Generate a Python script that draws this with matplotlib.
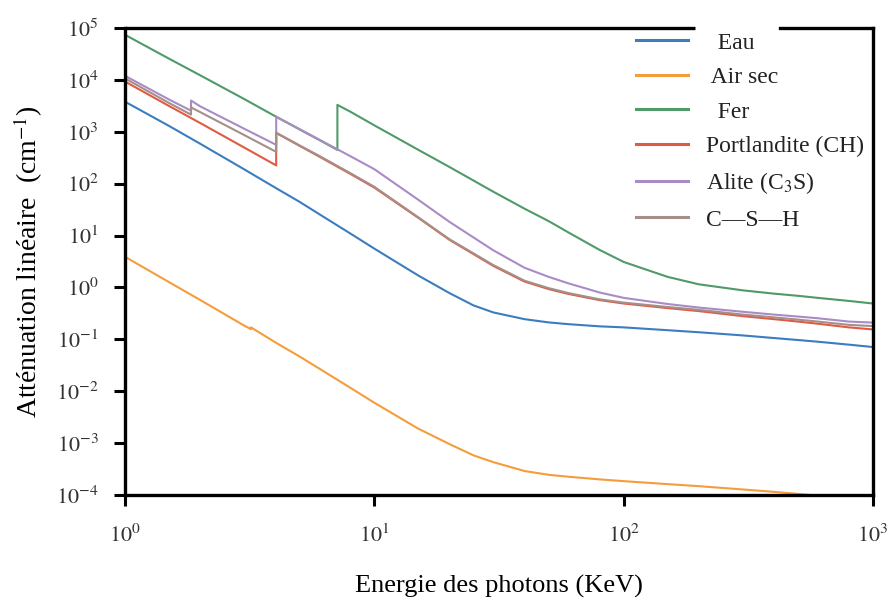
import matplotlib
matplotlib.use("Agg")
import matplotlib.pyplot as plt

plt.rcParams['font.family'] = ['Liberation Serif', 'DejaVu Serif']
plt.rcParams['mathtext.fontset'] = 'stix'

# ---- data (energy in keV, linear attenuation in cm^-1) ----
E_eau = [1, 1.5, 2, 3, 4, 5, 6, 8, 10, 15, 20, 25, 30, 40, 50, 60, 80, 100, 150, 200, 300, 400, 500, 600, 800, 1000]
mu_eau = [3800, 1300, 590, 190, 84, 45, 26, 11, 5.6, 1.7, 0.78, 0.45, 0.33, 0.245, 0.212, 0.196, 0.178, 0.17, 0.15, 0.137, 0.119, 0.106, 0.097, 0.09, 0.079, 0.071]

E_air = [1, 1.5, 2, 3, 3.2, 3.2, 4, 5, 6, 8, 10, 15, 20, 25, 30, 40, 50, 60, 80, 100, 150, 200, 300, 400, 500, 600, 800, 1000]
mu_air = [3.9, 1.27, 0.575, 0.185, 0.157, 0.170, 0.088, 0.047, 0.0275, 0.0117, 0.0060, 0.0019, 9.6e-4, 5.8e-4, 4.3e-4, 2.9e-4, 2.45e-4, 2.25e-4, 2.0e-4, 1.85e-4, 1.62e-4, 1.48e-4, 1.28e-4, 1.15e-4, 1.05e-4, 9.7e-5, 8.5e-5, 7.7e-5]

E_fer = [1, 1.5, 2, 3, 4, 5, 6, 7.11, 7.11, 8, 10, 15, 20, 30, 40, 50, 60, 80, 100, 150, 200, 300, 400, 500, 600, 800, 1000]
mu_fer = [74000, 25700, 12300, 4300, 2000, 1120, 700, 447, 3300, 2450, 1330, 450, 210, 70, 33, 19, 11.5, 5.3, 3.1, 1.6, 1.15, 0.88, 0.76, 0.69, 0.63, 0.55, 0.49]

E_port = [1, 1.5, 2, 3, 4.04, 4.04, 5, 6, 8, 10, 15, 20, 30, 40, 50, 60, 80, 100, 150, 200, 300, 400, 500, 600, 800, 1000]
mu_port = [9300, 3150, 1480, 500, 225, 950, 540, 335, 155, 84, 22, 8.3, 2.6, 1.3, 0.93, 0.75, 0.57, 0.49, 0.40, 0.35, 0.28, 0.245, 0.22, 0.20, 0.17, 0.155]

E_alite = [1, 1.5, 1.84, 1.84, 2, 3, 4.04, 4.04, 5, 6, 8, 10, 15, 20, 30, 40, 50, 60, 80, 100, 150, 200, 300, 400, 500, 600, 800, 1000]
mu_alite = [12000, 4200, 2550, 4000, 3100, 1150, 560, 1950, 1130, 710, 340, 190, 49, 18.4, 5.2, 2.4, 1.6, 1.2, 0.8, 0.63, 0.48, 0.41, 0.34, 0.30, 0.275, 0.255, 0.22, 0.21]

E_csh = [1, 1.5, 1.84, 1.84, 2, 3, 4.04, 4.04, 5, 6, 8, 10, 15, 20, 30, 40, 50, 60, 80, 100, 150, 200, 300, 400, 500, 600, 800, 1000]
mu_csh = [10700, 3600, 2140, 2950, 2400, 870, 410, 960, 550, 345, 160, 87, 22.5, 8.5, 2.7, 1.35, 0.97, 0.78, 0.59, 0.51, 0.42, 0.37, 0.30, 0.265, 0.24, 0.22, 0.19, 0.18]

labels = ['  Eau', ' Air sec', '  Fer', 'Portlandite (CH)', 'Alite (C$_3$S)', 'C\u2014S\u2014H']
colors = ['#3b7dbf', '#f59d3a', '#4f9a68', '#df5b43', '#a98cc6', '#a58f88']

xticks = [1, 10, 100, 1000]
xticklabels = ['$10^{0}$', '$10^{1}$', '$10^{2}$', '$10^{3}$']
yticks = [1e-4, 1e-3, 1e-2, 1e-1, 1e0, 1e1, 1e2, 1e3, 1e4, 1e5]
yticklabels = ['$10^{-4}$', '$10^{-3}$', '$10^{-2}$', '$10^{-1}$', '$10^{0}$',
               '$10^{1}$', '$10^{2}$', '$10^{3}$', '$10^{4}$', '$10^{5}$']

fig = plt.figure(figsize=(8.91, 6.05), dpi=100)
ax = fig.add_axes([125/891, 1-495/605, 748/891, 467/605])

series = [(E_eau, mu_eau), (E_air, mu_air), (E_fer, mu_fer),
          (E_port, mu_port), (E_alite, mu_alite), (E_csh, mu_csh)]
for (x, y), lab, c in zip(series, labels, colors):
    ax.plot(x, y, color=c, lw=1.5, label=lab)

ax.set_xscale('log')
ax.set_yscale('log')
ax.set_xlim(1, 1000)
ax.set_ylim(1e-4, 1e5)
ax.set_xticks(xticks)
ax.set_xticklabels(xticklabels)
ax.set_yticks(yticks)
ax.set_yticklabels(yticklabels)
ax.minorticks_off()
ax.tick_params(axis='both', which='major', direction='out', length=8, width=2.2,
               labelsize=16, colors='black')
ax.tick_params(axis='x', pad=13, labelcolor='#333333')
ax.tick_params(axis='y', pad=11, labelcolor='#333333')

for s in ['left', 'bottom', 'right']:
    ax.spines[s].set_linewidth(2.4)
ax.spines['top'].set_visible(False)
gx0 = (695-125)/748
gx1 = (780-125)/748
ax.plot([0, gx0], [1, 1], transform=ax.transAxes, clip_on=False, color='black', lw=2.4, solid_capstyle='butt')
ax.plot([gx1, 1], [1, 1], transform=ax.transAxes, clip_on=False, color='black', lw=2.4, solid_capstyle='projecting')

ax.set_xlabel('Energie des photons (KeV)', fontsize=19, labelpad=20)
ax.set_ylabel('Atténuation linéaire  (cm$^{-1}$)', fontsize=20, labelpad=8)

leg = ax.legend(loc='upper left', bbox_to_anchor=(636/891, 1-32/605), bbox_transform=fig.transFigure,
                frameon=False, fontsize=17, handlelength=2.2, handletextpad=0.75,
                labelspacing=0.55, borderpad=0, borderaxespad=0)
for line in leg.get_lines():
    line.set_linewidth(2.2)
for t in leg.get_texts():
    t.set_color('#222222')

fig.savefig('out.png', dpi=100)
